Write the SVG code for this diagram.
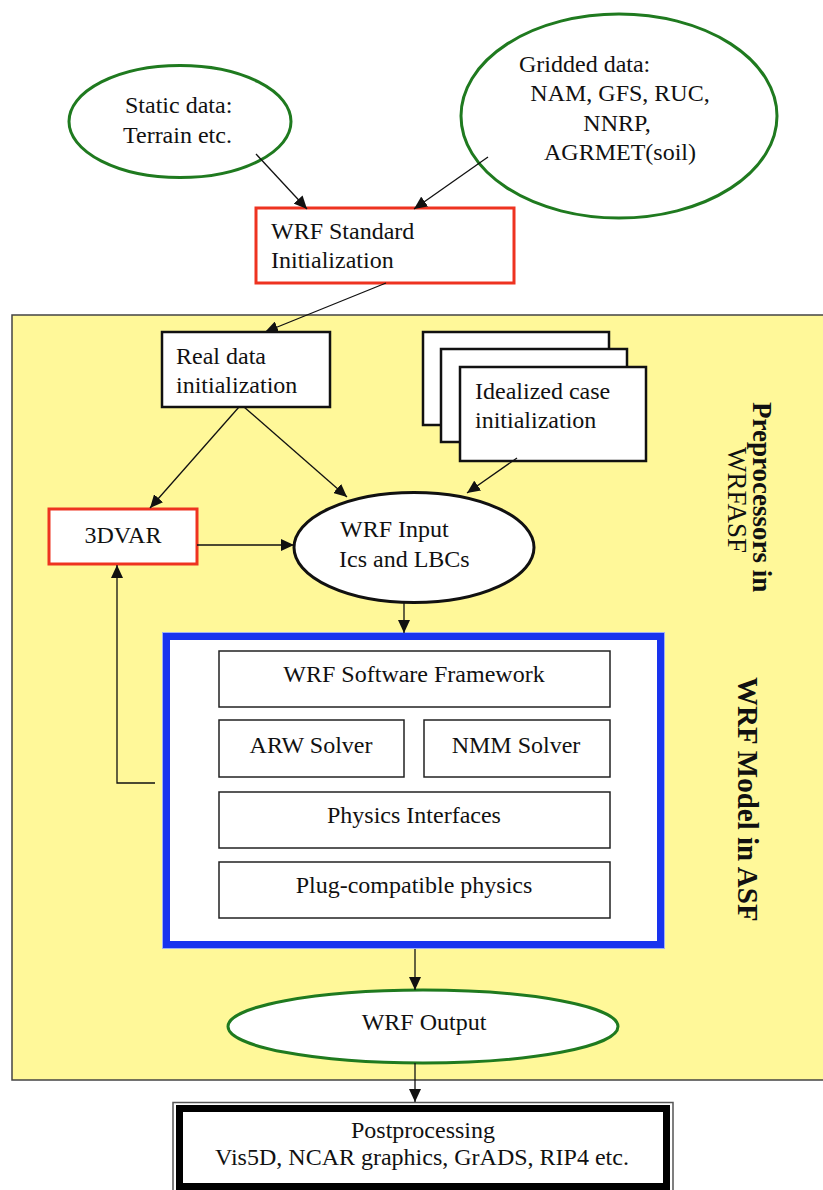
<svg xmlns="http://www.w3.org/2000/svg" width="823" height="1190" viewBox="0 0 823 1190">
<style>
text{font-family:"Liberation Serif","Times New Roman",serif;font-size:24px;fill:#111}
.mid{text-anchor:middle}
.green{fill:#fff;stroke:#1f7a1f;stroke-width:3}
.red{fill:#fff;stroke:#ee3320;stroke-width:3}
.blk{fill:#fff;stroke:#111;stroke-width:2.5}
.inner{fill:#fff;stroke:#222;stroke-width:1.5}
.conn{stroke:#111;stroke-width:1.3;fill:none;marker-end:url(#ah)}
.side{font-size:27px}
</style>
<defs>
<marker id="ah" markerUnits="userSpaceOnUse" markerWidth="14" markerHeight="12" refX="13" refY="6" orient="auto">
<path d="M0,0 L13,6 L0,12 Z" fill="#111"/>
</marker>
</defs>
<rect x="0" y="0" width="823" height="1190" fill="#fff"/>
<g id="asf-region">
<rect x="12" y="315" width="830" height="765" fill="#fff899" stroke="#444" stroke-width="1.5"/>
<text class="side" font-weight="bold" transform="translate(753,402) rotate(90)">Preprocessors in</text>
<text class="side" transform="translate(728,447) rotate(90)">WRFASF</text>
<text font-size="29" font-weight="bold" style="font-size:29px" transform="translate(738,677) rotate(90)">WRF Model in ASF</text>
</g>
<g id="static-data">
<ellipse class="green" cx="180" cy="121.5" rx="111" ry="56"/>
<text x="125" y="113">Static data:</text>
<text x="123" y="143">Terrain etc.</text>
</g>
<g id="gridded-data">
<ellipse class="green" cx="619" cy="116" rx="158" ry="102"/>
<text x="519" y="72">Gridded data:</text>
<text class="mid" x="620" y="101">NAM, GFS, RUC,</text>
<text class="mid" x="617" y="131">NNRP,</text>
<text class="mid" x="620" y="160">AGRMET(soil)</text>
</g>
<g id="wrf-standard-init">
<rect class="red" x="256" y="208" width="258" height="75"/>
<text x="271" y="239">WRF Standard</text>
<text x="271" y="268">Initialization</text>
</g>
<g id="real-data-init">
<rect class="blk" x="162" y="332" width="168" height="75"/>
<text x="176" y="364">Real data</text>
<text x="176" y="393">initialization</text>
</g>
<g id="idealized-init">
<rect class="blk" x="423" y="332" width="186" height="93"/>
<rect class="blk" x="441" y="349" width="186" height="93"/>
<rect class="blk" x="460" y="367" width="186" height="94"/>
<text x="475" y="399">Idealized case</text>
<text x="475" y="428">initialization</text>
</g>
<g id="3dvar">
<rect class="red" x="49" y="509" width="148" height="55"/>
<text class="mid" x="123" y="543">3DVAR</text>
</g>
<g id="wrf-input">
<ellipse cx="414" cy="547.5" rx="120" ry="55" fill="#fff" stroke="#111" stroke-width="3"/>
<text x="340" y="537">WRF Input</text>
<text x="339" y="567">Ics and LBCs</text>
</g>
<g id="wrf-model">
<rect x="162.5" y="632.5" width="502" height="316" fill="none" stroke="#9fb0f5" stroke-width="1"/>
<rect x="166.5" y="636.5" width="494" height="308" fill="#fff" stroke="#1833ee" stroke-width="7"/>
<g id="wrf-software-framework">
<rect class="inner" x="219" y="651" width="391" height="56"/>
<text class="mid" x="414" y="682">WRF Software Framework</text>
</g>
<g id="arw-solver">
<rect class="inner" x="219" y="720" width="185" height="57"/>
<text class="mid" x="311" y="753">ARW Solver</text>
</g>
<g id="nmm-solver">
<rect class="inner" x="424" y="720" width="186" height="57"/>
<text class="mid" x="516" y="753">NMM Solver</text>
</g>
<g id="physics-interfaces">
<rect class="inner" x="219" y="792" width="391" height="56"/>
<text class="mid" x="414" y="823">Physics Interfaces</text>
</g>
<g id="plug-compatible-physics">
<rect class="inner" x="219" y="862" width="391" height="56"/>
<text class="mid" x="414" y="893">Plug-compatible physics</text>
</g>
</g>
<g id="wrf-output">
<ellipse class="green" cx="423" cy="1026.5" rx="195" ry="36.5"/>
<text class="mid" x="424" y="1030">WRF Output</text>
</g>
<g id="postprocessing">
<rect x="173" y="1102.5" width="500" height="90" fill="#fff" stroke="#555" stroke-width="1.5"/>
<rect x="179.5" y="1108.5" width="487" height="78" fill="#fff" stroke="#000" stroke-width="7"/>
<text class="mid" x="423" y="1138">Postprocessing</text>
<text class="mid" x="422" y="1165">Vis5D, NCAR graphics, GrADS, RIP4 etc.</text>
</g>
<g id="connectors">
<line class="conn" x1="256" y1="154" x2="307" y2="209"/>
<line class="conn" x1="488" y1="157" x2="414" y2="209"/>
<line class="conn" x1="386" y1="283" x2="265" y2="332"/>
<line class="conn" x1="239" y1="407" x2="150" y2="508"/>
<line class="conn" x1="244" y1="407" x2="347" y2="497"/>
<line class="conn" x1="517" y1="458" x2="467" y2="493"/>
<line class="conn" x1="197" y1="545" x2="294" y2="545"/>
<line class="conn" x1="404" y1="603" x2="404" y2="633"/>
<polyline class="conn" points="155,783 117,783 117,565"/>
<line class="conn" x1="415" y1="949" x2="415" y2="990"/>
<line class="conn" x1="415" y1="1063" x2="415" y2="1102"/>
</g>
</svg>
